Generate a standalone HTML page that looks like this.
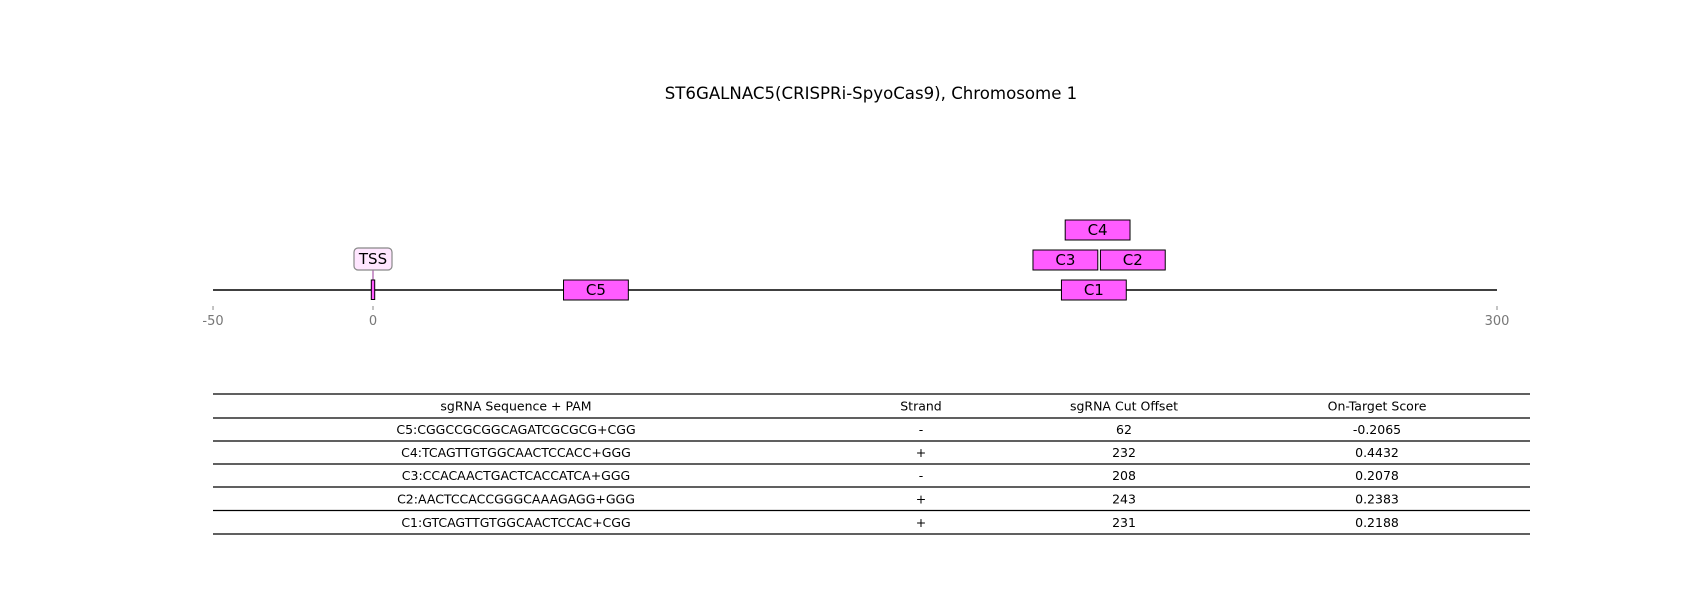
<!DOCTYPE html>
<html><head><meta charset="utf-8"><style>
body{margin:0;background:#fff;}
svg{display:block;font-family:"DejaVu Sans","Liberation Sans",sans-serif;}
</style></head><body>
<svg id="chart" width="1700" height="600" viewBox="0 0 1700 600">
<text x="871" y="99" text-anchor="middle" font-size="16.6">ST6GALNAC5(CRISPRi-SpyoCas9), Chromosome 1</text>
<g id="track"></g>
<g id="table"></g>
</svg>
<script>
const guideNames = ["C5","C4","C3","C2","C1"];
const guideCenters = [59.5,193.4,184.8,202.8,192.4];
const guideRows = [0,2,1,1,0];
const tickValues = [-42.7,0,300];
const tickLabels = ["-50","0","300"];
const tssPos = [0];
const tableHeaders = ["sgRNA Sequence + PAM","Strand","sgRNA Cut Offset","On-Target Score"];
const seqs = ["C5:CGGCCGCGGCAGATCGCGCG+CGG","C4:TCAGTTGTGGCAACTCCACC+GGG","C3:CCACAACTGACTCACCATCA+GGG","C2:AACTCCACCGGGCAAAGAGG+GGG","C1:GTCAGTTGTGGCAACTCCAC+CGG"];
const strands = ["-","+","-","+","+"];
const offsets = ["62","232","208","243","231"];
const scores = ["-0.2065","0.4432","0.2078","0.2383","0.2188"];

const NS="http://www.w3.org/2000/svg";
function mk(tag,attrs,parent){const e=document.createElementNS(NS,tag);for(const k in attrs)e.setAttribute(k,attrs[k]);parent.appendChild(e);return e;}
const x=v=>373+(v-0)*(1497-373)/300;
const rowY=r=>290-r*30;
const guideW=17.3;
const track=document.getElementById('track');

let ln=mk('line',{x1:x(tickValues[0]),x2:x(tickValues[2]),y1:290,y2:290,stroke:'#000','stroke-width':1.5},track);


tickValues.forEach((v,i)=>{
  let t=mk('line',{x1:x(v),x2:x(v),y1:306,y2:310,stroke:'#888','stroke-width':1},track);
  
  
  let l=mk('text',{x:x(v),y:325,'text-anchor':'middle','font-size':13,fill:'#777'},track);
  l.textContent=tickLabels[i];
  
  
});
tssPos.forEach(v=>{
  let s=mk('line',{x1:x(v),x2:x(v),y1:270,y2:280,stroke:'#800080','stroke-width':0.8},track);
  
  
  let m=mk('rect',{x:x(v)-1.7,y:280,width:3.4,height:19.5,fill:'#ff5cff',stroke:'#000','stroke-width':1},track);
  
  
  let b=mk('rect',{x:x(v)-19,y:248,width:38,height:22,rx:4,fill:'#ffe6ff',stroke:'#888','stroke-width':1.2},track);
  
  
  let t=mk('text',{x:x(v),y:264,'text-anchor':'middle','font-size':15},track);
  t.textContent='TSS';
  
  
});
guideNames.forEach((n,i)=>{
  const cx=x(guideCenters[i]),w=x(guideW)-x(0),cy=rowY(guideRows[i]);
  let r=mk('rect',{x:cx-w/2,y:cy-10,width:w,height:20,fill:'#ff5cff',stroke:'#000','stroke-width':1},track);
  
  
  let t=mk('text',{x:cx,y:cy+5,'text-anchor':'middle','font-size':15},track);
  t.textContent=n;
  
  
});

const table=document.getElementById('table');
const colX=[516,921,1124,1377];
const lineYs=[394,418,441,464,487,510.5,534];
for(const ly of lineYs){
  let l=mk('line',{x1:213,x2:1530,y1:ly,y2:ly,stroke:'#000','stroke-width':1.3},table);
  
  
}
const rows=[tableHeaders].concat(seqs.map((s,i)=>[s,strands[i],offsets[i],scores[i]]));
rows.forEach((row,ri)=>{
  const cy=(lineYs[ri]+lineYs[ri+1])/2+4.5;
  row.forEach((c,ci)=>{
    let t=mk('text',{x:colX[ci],y:cy,'text-anchor':'middle','font-size':12.5},table);
    t.textContent=c;
    
    
  });
});
</script>
</body></html>
